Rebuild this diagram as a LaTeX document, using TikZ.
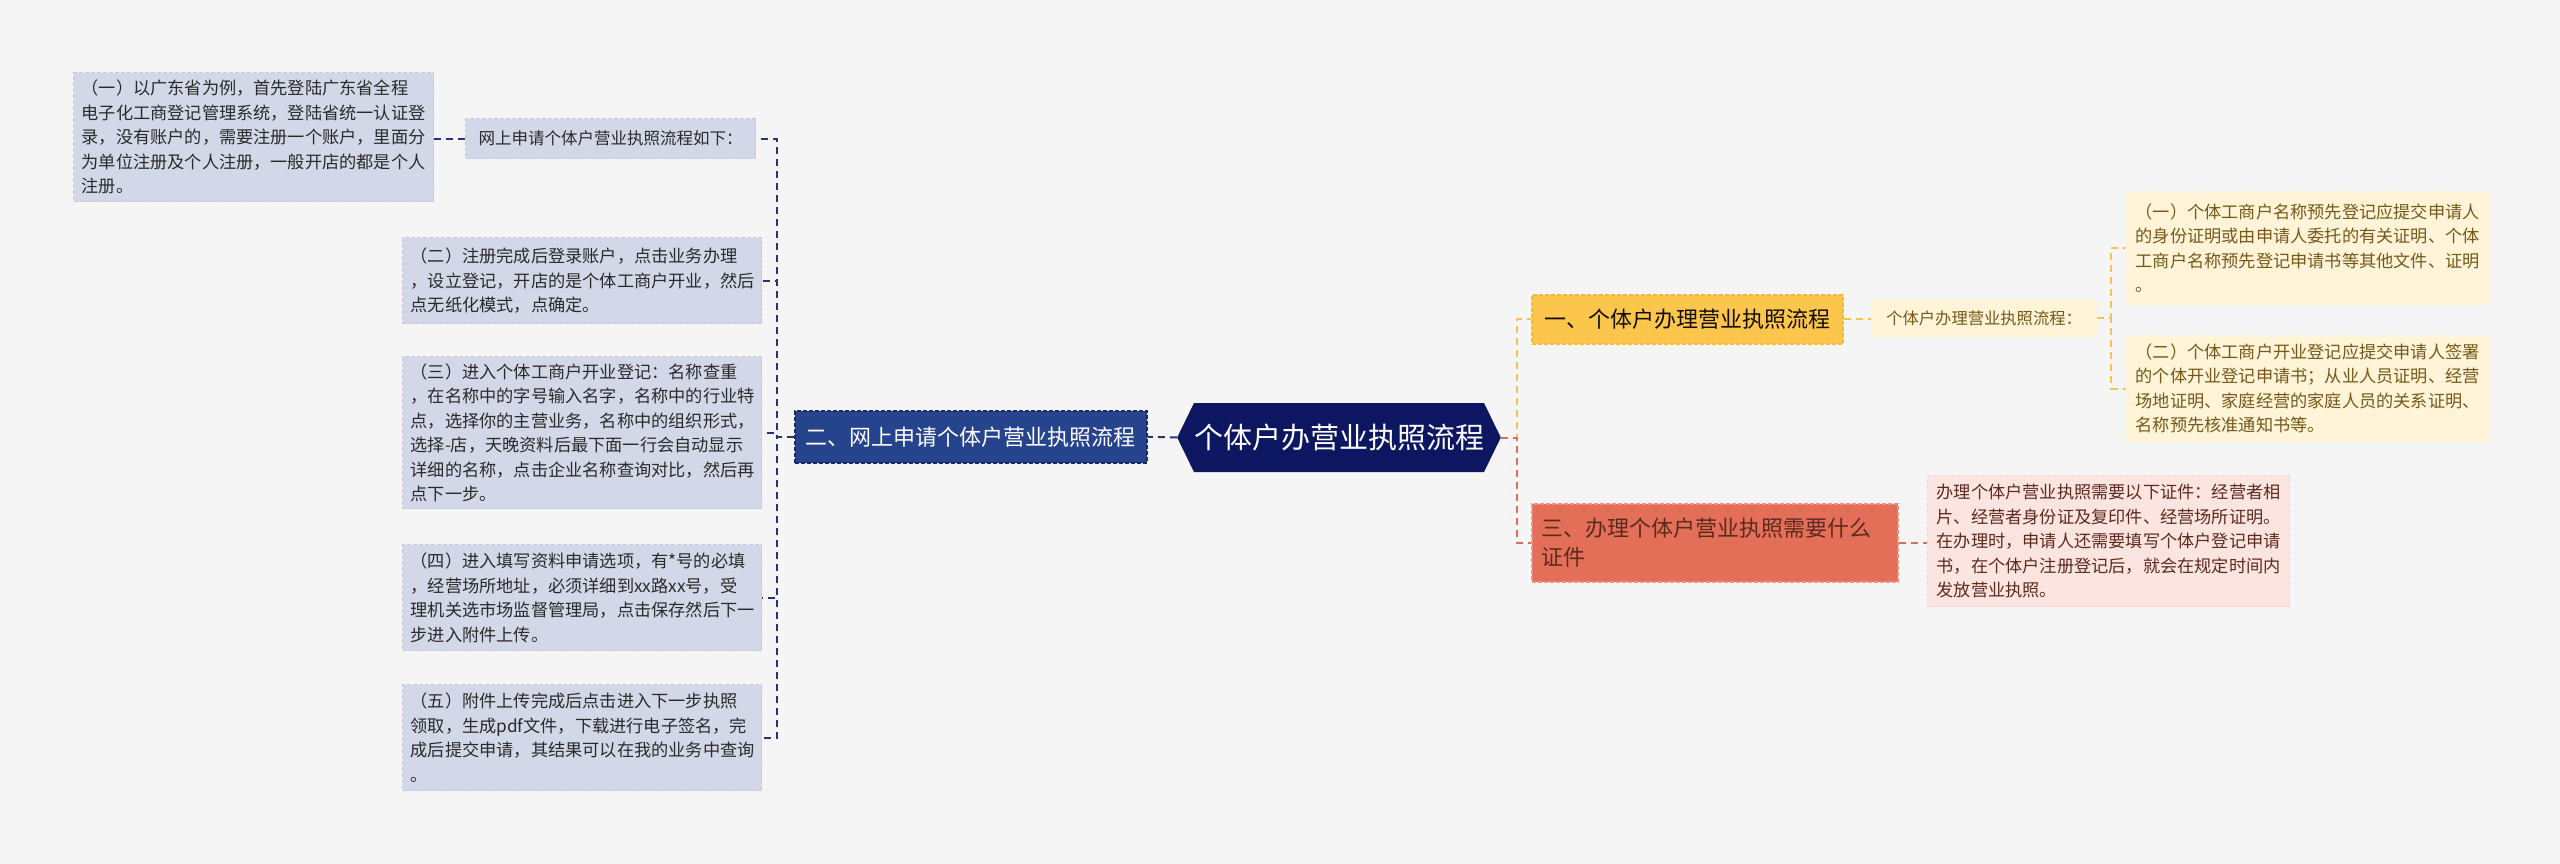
\documentclass[tikz,border=0pt]{standalone}
\usepackage{fontspec}
\newfontfamily\cjk{Noto Sans CJK SC}
\usepackage{xcolor}
\usepackage{tikz}
\usetikzlibrary{shapes.symbols,calc}
\definecolor{bgpaper}{HTML}{F5F5F5}
\definecolor{hubnavy}{HTML}{0C1661}
\definecolor{netblue}{HTML}{26438E}
\definecolor{netrim}{HTML}{172B6A}
\definecolor{netline}{HTML}{2A3470}
\definecolor{netleaf}{HTML}{D3D8E8}
\definecolor{netedge}{HTML}{C4CADD}
\definecolor{netink}{HTML}{2A2A2A}
\definecolor{stepgold}{HTML}{FCC64C}
\definecolor{goldrim}{HTML}{F2B93A}
\definecolor{goldline}{HTML}{F3C453}
\definecolor{goldleaf}{HTML}{FFF3D8}
\definecolor{goldink}{HTML}{76591A}
\definecolor{certred}{HTML}{E36F58}
\definecolor{redrim}{HTML}{F0927E}
\definecolor{redline}{HTML}{D8705C}
\definecolor{redleaf}{HTML}{FCE5E0}
\definecolor{redink}{HTML}{5C2A1E}

\begin{document}
\begin{tikzpicture}[
  x=1pt, y=-1pt,
  every node/.style={font=\cjk, inner sep=0pt},
  leaf/.style={rectangle, anchor=north west, align=left, inner xsep=8pt,
    font=\cjk\fontsize{17.2pt}{24.5pt}\selectfont,
    dash pattern=on 4pt off 2pt, line width=1.2pt},
  navleaf/.style={leaf, fill=netleaf, draw=netedge, text=netink},
  goldleafbox/.style={leaf, fill=goldleaf, draw=goldleaf, text=goldink},
  redleafbox/.style={leaf, fill=redleaf, draw=redleaf!80!redrim, text=redink},
  branch/.style={rectangle, anchor=north west, align=center,
    font=\cjk\fontsize{22pt}{29pt}\selectfont,
    dash pattern=on 4pt off 2pt, line width=1.5pt},
  navlink/.style={draw=netline, line width=2pt, dash pattern=on 7pt off 5pt},
  goldlink/.style={draw=goldline, line width=2pt, dash pattern=on 7pt off 5pt},
  redlink/.style={draw=redline, line width=2pt, dash pattern=on 7pt off 5pt},
]

%% Paper
\fill[bgpaper] (0,0) rectangle (2560,864);
\useasboundingbox (0,0) rectangle (2560,864);

%% Root
\node[signal, signal to=west and east, signal pointer angle=128,
  fill=hubnavy, text=white, minimum width=320pt, minimum height=69pt,
  font=\cjk\fontsize{29pt}{34pt}\selectfont] (hub) at (1339,437.5) {个体户办营业执照流程};

%% Left branch: online application
\node[branch, fill=netblue, draw=netrim, text=white,
  minimum width=352pt, minimum height=52pt] (two) at (794,410) {二、网上申请个体户营业执照流程};

\node[navleaf, inner xsep=13pt, font=\cjk\fontsize{16.5pt}{22pt}\selectfont,
  minimum width=289pt, minimum height=40pt] (lab1) at (465,118) {网上申请个体户营业执照流程如下：};

\node[navleaf, text width=344pt, minimum width=360pt, minimum height=129pt] (b1) at (73,72) {%
（一）以广东省为例，首先登陆广东省全程\\
电子化工商登记管理系统，登陆省统一认证登\\
录，没有账户的，需要注册一个账户，里面分\\
为单位注册及个人注册，一般开店的都是个人\\
注册。};

\node[navleaf, text width=343pt, minimum width=359pt, minimum height=86pt] (b2) at (402,237) {%
（二）注册完成后登录账户，点击业务办理\\
，设立登记，开店的是个体工商户开业，然后\\
点无纸化模式，点确定。};

\node[navleaf, text width=343pt, minimum width=359pt, minimum height=152pt] (b3) at (402,356) {%
（三）进入个体工商户开业登记：名称查重\\
，在名称中的字号输入名字，名称中的行业特\\
点，选择你的主营业务，名称中的组织形式，\\
选择-店，天晚资料后最下面一行会自动显示\\
详细的名称，点击企业名称查询对比，然后再\\
点下一步。};

\node[navleaf, text width=343pt, minimum width=359pt, minimum height=106pt] (b4) at (402,544) {%
（四）进入填写资料申请选项，有*号的必填\\
，经营场所地址，必须详细到xx路xx号，受\\
理机关选市场监督管理局，点击保存然后下一\\
步进入附件上传。};

\node[navleaf, text width=343pt, minimum width=359pt, minimum height=106pt] (b5) at (402,684) {%
（五）附件上传完成后点击进入下一步执照\\
领取，生成pdf文件，下载进行电子签名，完\\
成后提交申请，其结果可以在我的业务中查询\\
。};

%% Right branch: procedure
\node[branch, fill=stepgold, draw=goldrim, text=black!85!goldink,
  minimum width=311pt, minimum height=49pt] (one) at (1531,294) {一、个体户办理营业执照流程};

\node[goldleafbox, font=\cjk\fontsize{16.3pt}{22pt}\selectfont, align=center,
  minimum width=225pt, minimum height=37pt] (lab2) at (1871,299) {个体户办理营业执照流程：};

\node[goldleafbox, inner xsep=9pt, text width=344pt, minimum width=362pt, minimum height=113pt] (rb1) at (2126,191) {%
（一）个体工商户名称预先登记应提交申请人\\
的身份证明或由申请人委托的有关证明、个体\\
工商户名称预先登记申请书等其他文件、证明\\
。};

\node[goldleafbox, inner xsep=9pt, text width=344pt, minimum width=362pt, minimum height=106pt] (rb2) at (2126,335) {%
（二）个体工商户开业登记应提交申请人签署\\
的个体开业登记申请书；从业人员证明、经营\\
场地证明、家庭经营的家庭人员的关系证明、\\
名称预先核准通知书等。};

%% Right branch: certificates
\node[branch, fill=certred, draw=redrim, text=redink, align=left, inner xsep=10pt,
  text width=346pt, minimum width=366pt, minimum height=78pt] (three) at (1531,503) {%
三、办理个体户营业执照需要什么\\
证件};

\node[redleafbox, inner xsep=9pt, text width=344pt, minimum width=362pt, minimum height=131pt] (rb3) at (1927,475) {%
办理个体户营业执照需要以下证件：经营者相\\
片、经营者身份证及复印件、经营场所证明。\\
在办理时，申请人还需要填写个体户登记申请\\
书，在个体户注册登记后，就会在规定时间内\\
发放营业执照。};

%% Connectors
\coordinate (lj) at (777,437);
\coordinate (rj) at (1517,437);
\coordinate (gj) at (2111,318);

\draw[navlink] (hub.west) -- (two.east);
\foreach \kid in {lab1,b2,b3,b4,b5}{
  \draw[navlink] (two.west) -- (two.west -| lj) |- (\kid.east);
}
\draw[navlink] (lab1.west) -- (b1.east |- lab1.west);

\draw[goldlink] (hub.east) -- (hub.east -| rj) |- (one.west);
\draw[redlink] (hub.east) -- (hub.east -| rj) |- (three.west);
\draw[goldlink] (one.east) -- (lab2.west |- one.east);
\foreach \kid in {rb1,rb2}{
  \draw[goldlink] (lab2.east) -- (lab2.east -| gj) |- (\kid.west);
}
\draw[redlink] (three.east) -- (rb3.west |- three.east);

\end{tikzpicture}
\end{document}
